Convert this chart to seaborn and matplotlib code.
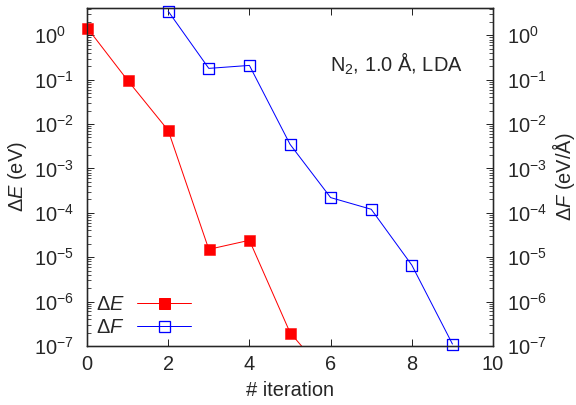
import matplotlib
matplotlib.use("Agg")
import matplotlib.pyplot as plt
import matplotlib.ticker as mticker
from matplotlib.lines import Line2D
import numpy as np
import pandas as pd
import seaborn as sns

iter_E = [0, 1, 2, 3, 4, 5, 6]
dE = [1.5, 0.097, 0.0072, 1.5e-5, 2.4e-5, 2.0e-7, 1.7e-8]
iter_F = [2, 3, 4, 5, 6, 7, 8, 9]
dF = [3.5, 0.18, 0.21, 0.0035, 2.2e-4, 1.2e-4, 6.6e-6, 1.1e-7]

sns.set_style("ticks")
plt.rcParams['font.family'] = ['Liberation Sans', 'DejaVu Sans']
plt.rcParams['mathtext.fontset'] = 'custom'
plt.rcParams['mathtext.rm'] = 'Liberation Sans'
plt.rcParams['mathtext.it'] = 'Liberation Sans:italic'
FS = 20
RED = "#ff0000"
BLUE = "#0000ff"
YMIN, YMAX = 1e-7, 4.2

fig = plt.figure(figsize=(8, 5.625), dpi=72)
ax = fig.add_axes([0.151, 0.146, 0.705, 0.835])

dfE = pd.DataFrame({"it": iter_E, "v": dE})
dfF = pd.DataFrame({"it": iter_F, "v": dF})
sns.lineplot(data=dfE, x="it", y="v", ax=ax, color=RED, lw=1.0, legend=False)
sns.lineplot(data=dfF, x="it", y="v", ax=ax, color=BLUE, lw=1.0, legend=False)

inE = dfE[(dfE.v >= YMIN) & (dfE.v <= YMAX)]
inF = dfF[(dfF.v >= YMIN) & (dfF.v <= YMAX)]
sns.scatterplot(data=inE, x="it", y="v", ax=ax, marker="s", s=11**2,
                color=RED, edgecolor=RED, linewidth=0.5, legend=False,
                clip_on=False, zorder=5)
sns.scatterplot(data=inF, x="it", y="v", ax=ax, marker="s", s=11**2,
                facecolor="none", edgecolor=BLUE, linewidth=1.3, legend=False,
                clip_on=False, zorder=5)

ax.set_yscale("log")
ax.set_xlim(0, 10)
ax.set_ylim(YMIN, YMAX)
ax.set_xticks([0, 2, 4, 6, 8, 10])
ax.yaxis.set_major_locator(mticker.LogLocator(base=10, numticks=20))
ax.yaxis.set_minor_locator(mticker.LogLocator(base=10, subs=np.arange(2, 10), numticks=20))
ax.yaxis.set_minor_formatter(mticker.NullFormatter())
ax.set_xlabel("# iteration", fontsize=FS, labelpad=7)
ax.set_ylabel(r"$\Delta E$ (eV)", fontsize=FS, labelpad=5)
ax.tick_params(axis="both", which="major", direction="in", length=7, width=1,
               labelsize=FS, top=True)
ax.tick_params(axis="x", which="major", pad=9)
ax.tick_params(axis="y", which="major", pad=53)
ax.tick_params(axis="y", which="minor", direction="in", length=4, width=0.8)
ax.tick_params(axis="x", which="minor", bottom=False, top=False)
for s in ax.spines.values():
    s.set_linewidth(1.3)
    s.set_color("black")

ax2 = ax.twinx()
ax2.set_yscale("log")
ax2.set_ylim(ax.get_ylim())
ax2.yaxis.set_major_locator(mticker.LogLocator(base=10, numticks=20))
ax2.yaxis.set_minor_locator(mticker.LogLocator(base=10, subs=np.arange(2, 10), numticks=20))
ax2.yaxis.set_minor_formatter(mticker.NullFormatter())
ax2.tick_params(axis="y", which="major", direction="in", length=7, width=1,
                labelsize=FS, pad=14)
ax2.tick_params(axis="y", which="minor", direction="in", length=4, width=0.8)
ax2.set_ylabel(r"$\Delta F$ (eV/Å)", fontsize=FS, labelpad=3)
for s in ax2.spines.values():
    s.set_linewidth(1.3)

for t in ax.get_yticklabels():
    t.set_horizontalalignment("left")

ax.text(0.925, 0.835, r"N$_2$, 1.0 Å, LDA", transform=ax.transAxes,
        ha="right", va="center", fontsize=FS)

handles = [
    Line2D([], [], color=RED, lw=1.0, marker="s", markersize=11,
           markerfacecolor=RED, markeredgecolor=RED),
    Line2D([], [], color=BLUE, lw=1.0, marker="s", markersize=11,
           markerfacecolor="none", markeredgecolor=BLUE, markeredgewidth=1.3),
]
ax.legend(handles, [r"$\Delta E$", r"$\Delta F$"], loc="lower left",
          bbox_to_anchor=(0.0, 0.0), frameon=False,
          markerfirst=False, fontsize=FS, handlelength=2.7,
          handletextpad=0.6, labelspacing=0.2, borderaxespad=0.05)

fig.savefig("out.png", dpi=72)
